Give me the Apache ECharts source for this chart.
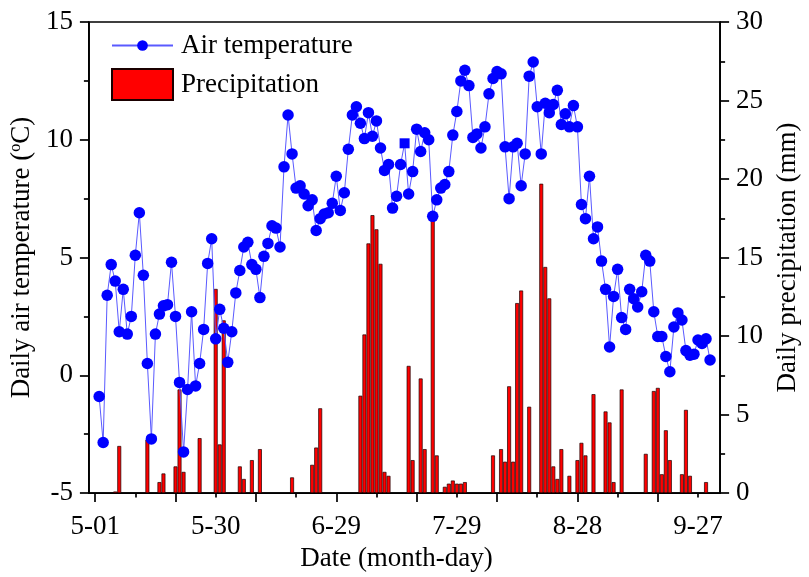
<!DOCTYPE html>
<html><head><meta charset="utf-8">
<script src="https://cdn.jsdelivr.net/npm/echarts@6/dist/echarts.min.js"></script>
<style>html,body{margin:0;padding:0;background:#fff}#c{width:809px;height:577px}</style>
</head><body><div id="c"></div>
<script>
// day-of-year of first record (5-01)
const firstDay = 122;
// Daily air temperature (°C)
const temperature = [
 -0.9,-2.85,3.4,4.7,4.0,1.85,3.65,1.75,2.5,5.1,
 6.9,4.25,0.5,-2.7,1.75,2.6,2.95,3.0,4.8,2.5,
 -0.3,-3.25,-0.6,2.7,-0.45,0.5,1.95,4.75,5.8,1.55,
 2.8,2.0,0.55,1.85,3.5,4.45,5.45,5.65,4.7,4.5,
 3.3,5.05,5.6,6.35,6.25,5.45,8.85,11.05,9.4,7.95,
 8.05,7.7,7.2,7.45,6.15,6.65,6.85,6.9,7.3,8.45,
 7.0,7.75,9.6,11.05,11.4,10.7,10.05,11.15,10.15,10.8,
 9.65,8.7,8.95,7.1,7.6,8.95,9.85,7.7,8.65,10.45,
 9.5,10.3,10.0,6.75,7.45,7.95,8.1,8.65,10.2,11.2,
 12.5,12.95,12.3,10.1,10.25,9.65,10.55,11.95,12.6,12.9,
 12.8,9.7,7.5,9.7,9.85,8.05,9.4,12.7,13.3,11.4,
 9.4,11.55,11.15,11.5,12.1,10.65,11.1,10.55,11.45,10.55,
 7.25,6.65,8.45,5.8,6.3,4.85,3.65,1.2,3.35,4.5,
 2.45,1.95,3.65,3.25,2.9,3.55,5.1,4.85,2.7,1.65,
 1.65,0.8,0.15,2.05,2.65,2.35,1.05,0.85,0.9,1.5,
 1.35,1.55,0.65
];
// Daily precipitation (mm)
const precipitation = [
 0,0,0,0,0.1,3.0,0,0,0,0,
 0,0,3.4,0,0,0.7,1.25,0,0,1.7,
 6.6,1.35,0,0,0,3.5,0,0,0,13.0,
 3.1,11.0,0,0,0,1.7,0.9,0,2.1,0,
 2.8,0,0,0,0,0,0,0,1.0,0,
 0,0,0,1.8,2.9,5.4,0,0,0,0,
 0,0,0,0,0,6.2,10.1,15.9,17.7,16.8,
 14.6,1.35,1.1,0,0,0,0,8.1,2.1,0,
 7.3,2.8,0,17.6,2.4,0,0.4,0.6,0.8,0.6,
 0.6,0.7,0,0,0,0,0,0,2.4,0,
 2.8,2.0,6.8,2.0,12.1,12.9,0,5.5,0,0,
 19.7,14.4,12.4,1.7,0.9,2.8,0,1.1,0,2.1,
 3.2,2.4,0,6.3,0,0,5.2,4.5,0.7,0,
 6.6,0,0,0,0,0,2.5,0,6.5,6.7,
 1.2,4.0,2.1,0,0,1.2,5.3,1.1,0,0,
 0,0.7,0
];
// x tick labels and positions (day of year)
const tickDays = [121,151,181,211,241,271];
const tickLabels = ['5-01','5-30','6-29','7-29','8-28','9-27'];
const majorTickDays = [121,141,161,181,201,221,241,261];
const minorTickDays = [131,151,171,191,211,231,251,271];
const squareIndex = 76;

const FONT = 'Liberation Serif';
const days = temperature.map((_, i) => firstDay + i);
const tempData = temperature.map((t, i) => i === squareIndex
  ? { value: [days[i], t], symbol: 'rect', symbolSize: 10 }
  : [days[i], t]);
const rainData = [];
precipitation.forEach((p, i) => { if (p > 0) rainData.push([days[i], p]); });

const axisLineStyle = { color: '#000', width: 1.7 };
const labelStyle = { fontFamily: FONT, fontSize: 27, color: '#000' };

const chart = echarts.init(document.getElementById('c'), null, { renderer: 'canvas' });
chart.setOption({
  animation: false,
  backgroundColor: '#fff',
  grid: { left: 88, right: 82, top: 22, bottom: 82, show: true, borderColor: '#000', borderWidth: 1.7, backgroundColor: 'transparent' },
  legend: [
    { data: ['Air temperature'], left: 106, top: 27, itemWidth: 61, itemHeight: 13.4, padding: 5,
      textStyle: Object.assign({ padding: [0, 0, 0, 3] }, labelStyle) },
    { data: [{ name: 'Precipitation', icon: 'rect' }], left: 106, top: 63, itemWidth: 61, itemHeight: 31, padding: 5,
      textStyle: Object.assign({ padding: [0, 0, 0, 3] }, labelStyle) }
  ],
  xAxis: [
    {
      type: 'value', min: 119.45, max: 276.5, position: 'bottom',
      axisLine: { show: true, onZero: false, lineStyle: axisLineStyle },
      axisTick: { show: true, customValues: majorTickDays, length: 9, lineStyle: axisLineStyle },
      axisLabel: { customValues: tickDays, margin: 20, formatter: v => tickLabels[tickDays.indexOf(v)] || '', ...labelStyle },
      splitLine: { show: false },
      name: 'Date (month-day)', nameLocation: 'middle', nameGap: 44,
      nameTextStyle: Object.assign({ padding: [0, 16, 0, 0] }, labelStyle)
    },
    {
      type: 'value', min: 119.45, max: 276.5, position: 'bottom',
      axisLine: { show: false, onZero: false },
      axisTick: { show: true, customValues: minorTickDays, length: 4.5, lineStyle: axisLineStyle },
      axisLabel: { show: false },
      splitLine: { show: false }
    }
  ],
  yAxis: [
    {
      type: 'value', min: -5, max: 15, interval: 5, position: 'left',
      axisLine: { show: true, onZero: false, lineStyle: axisLineStyle },
      axisTick: { show: true, length: 9, lineStyle: axisLineStyle },
      minorTick: { show: true, splitNumber: 2, length: 5, lineStyle: axisLineStyle },
      axisLabel: { margin: 16, ...labelStyle },
      splitLine: { show: false },
      name: 'Daily air temperature ({sup|o}C)', nameLocation: 'middle', nameGap: 42, nameRotate: 90,
      nameTextStyle: Object.assign({
        lineHeight: 27,
        rich: { sup: { fontFamily: FONT, fontSize: 16, color: '#000', verticalAlign: 'top', lineHeight: 16 } }
      }, labelStyle)
    },
    {
      type: 'value', min: 0, max: 30, interval: 5, position: 'right',
      axisLine: { show: true, onZero: false, lineStyle: axisLineStyle },
      axisTick: { show: true, length: 9, lineStyle: axisLineStyle },
      minorTick: { show: true, splitNumber: 2, length: 5, lineStyle: axisLineStyle },
      axisLabel: { margin: 16, ...labelStyle },
      splitLine: { show: false },
      name: 'Daily precipitation (mm)', nameLocation: 'middle', nameGap: 53, nameRotate: 90,
      nameTextStyle: labelStyle
    }
  ],
  series: [
    {
      name: 'Precipitation', type: 'bar', xAxisIndex: 0, yAxisIndex: 1,
      data: rainData, barWidth: 3.9, z: 2,
      itemStyle: { color: '#ff0000', borderColor: '#1a0000', borderWidth: 0.7 }
    },
    {
      name: 'Air temperature', type: 'line', xAxisIndex: 0, yAxisIndex: 0,
      data: tempData, symbol: 'circle', symbolSize: 11.5, showAllSymbol: true, z: 3,
      itemStyle: { color: '#0000ff' },
      lineStyle: { color: '#5a5aff', width: 1 }
    }
  ]
});
</script>
</body></html>
